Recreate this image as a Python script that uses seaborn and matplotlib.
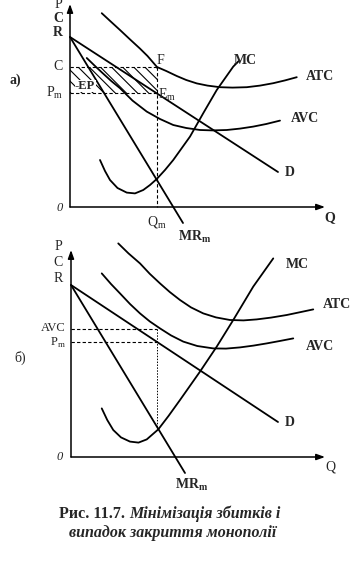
import numpy as np
import matplotlib
matplotlib.use("Agg")
import matplotlib.pyplot as plt
from matplotlib.patches import Rectangle
import seaborn as sns

# ---- panel a) values (Q, P units) ----
a_R = 8.5
a_C = 7.0
a_Pm = 5.7
a_Qm = 3.48
a_D_q = [0, 8.32]
a_D_p = [8.5, 1.75]
a_MR_q = [0, 4.52]
a_MR_p = [8.5, -0.8]
a_MC_q = [1.2, 1.4, 1.6, 1.9, 2.27, 2.6, 2.93, 3.2, 3.47, 3.8, 4.13, 4.8,
          5.33, 5.87, 6.53, 6.75]
a_MC_p = [2.35, 1.8, 1.35, 0.95, 0.72, 0.68, 0.85, 1.1, 1.4, 1.85, 2.35, 3.52,
          4.69, 5.85, 7.02, 7.3]
a_ATC_q = [1.27, 1.65, 2.0, 2.4, 2.8, 3.1, 3.48, 3.85, 4.27, 4.65, 5.07, 5.5,
           6.0, 6.5, 7.07, 7.6, 8.13, 8.6, 9.07]
a_ATC_p = [9.69, 9.25, 8.85, 8.38, 7.92, 7.55, 7.0, 6.8, 6.55, 6.35, 6.18,
           6.07, 5.99, 5.97, 5.99, 6.07, 6.19, 6.33, 6.49]
a_AVC_q = [0.67, 1.0, 1.3, 1.65, 2.0, 2.5, 3.07, 3.6, 4.13, 4.65, 5.2, 5.7,
           6.27, 6.8, 7.33, 7.85, 8.4]
a_AVC_p = [7.45, 7.05, 6.7, 6.3, 5.94, 5.32, 4.77, 4.4, 4.1, 3.95, 3.85,
           3.83, 3.85, 3.92, 4.02, 4.15, 4.32]

# ---- panel б) ----
b_R = 8.6
b_AVC = 6.4
b_Pm = 5.75
b_Qm = 3.44
b_MCQ = 1.4
b_D_q = [0, 8.28]
b_D_p = [8.6, 1.75]
b_MR_q = [0, 4.56]
b_MR_p = [8.6, -0.8]
b_MC_q = [1.23, 1.45, 1.69, 2.0, 2.36, 2.7, 3.03, 3.49, 3.9, 4.36, 5.16,
          5.83, 6.49, 7.29, 8.09]
b_MC_p = [2.43, 1.85, 1.35, 0.98, 0.77, 0.72, 0.88, 1.38, 2.05, 2.85, 4.27,
          5.52, 6.85, 8.52, 9.93]
b_ATC_q = [1.89, 2.3, 2.76, 3.15, 3.56, 3.95, 4.36, 4.8, 5.29, 5.8, 6.36,
           6.9, 7.43, 8.0, 8.63, 9.2, 9.69]
b_ATC_p = [10.68, 10.18, 9.68, 9.16, 8.68, 8.25, 7.85, 7.48, 7.18, 6.98,
           6.85, 6.83, 6.88, 6.97, 7.1, 7.25, 7.38]
b_AVC_q = [1.23, 1.6, 1.96, 2.36, 2.76, 3.15, 3.56, 4.0, 4.49, 5.05, 5.69,
           6.2, 6.76, 7.3, 7.83, 8.35, 8.89]
b_AVC_p = [9.18, 8.65, 8.18, 7.65, 7.18, 6.78, 6.43, 6.08, 5.77, 5.55, 5.43,
           5.42, 5.48, 5.57, 5.68, 5.8, 5.93]

sns.set_style("white")
plt.rcParams["font.family"] = ["Liberation Serif", "DejaVu Serif"]
plt.rcParams["mathtext.fontset"] = "custom"
plt.rcParams["mathtext.rm"] = "Liberation Serif"
plt.rcParams["mathtext.bf"] = "Liberation Serif:bold"
plt.rcParams["hatch.linewidth"] = 0.8
plt.rcParams["hatch.color"] = "black"

W, H = 357, 579
fig = plt.figure(figsize=(W / 100, H / 100), dpi=100)


def make_axes(top, bottom, ox, oy):
    # axes spans full width; 25 px per Q unit, 20 px per P unit
    ax = fig.add_axes([0, 1 - bottom / H, 1, (bottom - top) / H])
    ax.set_xlim(-ox / 25, (W - ox) / 25)
    ax.set_ylim((oy - bottom) / 20, (oy - top) / 20)
    ax.axis("off")
    return ax


def curve(ax, q, p):
    sns.lineplot(x=q, y=p, ax=ax, color="black", lw=1.3, sort=False,
                 estimator=None)


def axes_arrows(ax, ytop, xend):
    arr = dict(arrowstyle="-|>,head_length=0.5,head_width=0.18", color="black",
               lw=1.1, shrinkA=0, shrinkB=0)
    ax.annotate("", xy=(0, ytop), xytext=(0, 0), arrowprops=arr)
    ax.annotate("", xy=(xend, 0), xytext=(0, 0), arrowprops=arr)


dash = dict(color="black", lw=0.8, ls=(0, (3, 2)))
bold = dict(fontsize=10, fontweight="bold")
reg = dict(fontsize=10)

# ---------- a) ----------
ax = make_axes(0, 240, 70, 207)
axes_arrows(ax, 10.15, 10.2)
loss = Rectangle((0, a_Pm), a_Qm, a_C - a_Pm, fill=False, edgecolor="black",
                 hatch="\\\\\\", linewidth=0)
ax.add_patch(loss)
ax.plot([0, a_Qm], [a_C, a_C], **dash)
ax.plot([0, a_Qm], [a_Pm, a_Pm], **dash)
ax.plot([a_Qm, a_Qm], [a_C, 0], **dash)
for q, p in [(a_D_q, a_D_p), (a_MR_q, a_MR_p), (a_MC_q, a_MC_p),
             (a_ATC_q, a_ATC_p), (a_AVC_q, a_AVC_p)]:
    curve(ax, q, p)
ax.text(0.6, 6.05, "-EP", ha="center", va="center", fontsize=9,
        fontweight="bold", bbox=dict(fc="white", ec="none", pad=0.3))
ax.text(-0.48, 10.1, "P", ha="center", va="center", **reg)
ax.text(-0.48, 9.4, "C", ha="center", va="center", **bold)
ax.text(-0.48, 8.75, "R", ha="center", va="center", **bold)
ax.text(-0.28, a_C, "C", ha="right", va="center", **reg)
ax.text(-0.28, a_Pm, r"P$_\mathrm{m}$", ha="right", va="center", **reg)
ax.text(-2.2, 6.35, "а)", ha="center", va="center", **bold)
ax.text(-0.4, -0.05, "0", ha="center", va="center", fontsize=9, style="italic")
ax.text(a_Qm, -0.75, r"Q$_\mathrm{m}$", ha="center", va="center", **reg)
ax.text(10.4, -0.55, "Q", ha="center", va="center", **bold)
ax.text(5.0, -1.5, r"MR$_\mathbf{m}$", ha="center", va="center", **bold)
ax.text(7.0, 7.3, "MC", ha="center", va="center", **bold)
ax.text(10.0, 6.55, "ATC", ha="center", va="center", **bold)
ax.text(9.4, 4.45, "AVC", ha="center", va="center", **bold)
ax.text(8.8, 1.7, "D", ha="center", va="center", **bold)
ax.text(3.6, 7.35, "F", ha="center", va="center", **reg)
ax.text(3.9, 5.6, r"E$_\mathrm{m}$", ha="center", va="center", **reg)

# ---------- б) ----------
ax = make_axes(240, 495, 71, 457)
axes_arrows(ax, 10.35, 10.16)
ax.plot([0, b_Qm], [b_AVC, b_AVC], **dash)
ax.plot([0, b_Qm], [b_Pm, b_Pm], **dash)
ax.plot([b_Qm, b_Qm], [b_AVC, b_MCQ], color="black", lw=0.7, ls=(0, (1.5, 1.5)))
for q, p in [(b_D_q, b_D_p), (b_MR_q, b_MR_p), (b_MC_q, b_MC_p),
             (b_ATC_q, b_ATC_p), (b_AVC_q, b_AVC_p)]:
    curve(ax, q, p)
ax.text(-0.52, 10.5, "P", ha="center", va="center", **reg)
ax.text(-0.52, 9.7, "C", ha="center", va="center", **reg)
ax.text(-0.52, 8.9, "R", ha="center", va="center", **reg)
ax.text(-0.2, b_AVC + 0.05, "AVC", ha="right", va="center", fontsize=9)
ax.text(-0.2, b_Pm - 0.05, r"P$_\mathrm{m}$", ha="right", va="center",
        fontsize=9)
ax.text(-2.04, 4.95, "б)", ha="center", va="center", **reg)
ax.text(-0.44, 0, "0", ha="center", va="center", fontsize=9, style="italic")
ax.text(10.36, -0.5, "Q", ha="center", va="center", **reg)
ax.text(4.84, -1.4, r"MR$_\mathbf{m}$", ha="center", va="center", **bold)
ax.text(9.04, 9.6, "MC", ha="center", va="center", **bold)
ax.text(10.64, 7.6, "ATC", ha="center", va="center", **bold)
ax.text(9.96, 5.55, "AVC", ha="center", va="center", **bold)
ax.text(8.76, 1.7, "D", ha="center", va="center", **bold)

# ---------- caption ----------
fig.text(125 / W, 1 - 514 / H, "Рис. 11.7.", ha="right", va="center",
         fontsize=11.5, fontweight="bold")
fig.text(129 / W, 1 - 514 / H, "Мінімізація збитків і", ha="left",
         va="center", fontsize=11.5, fontweight="bold", style="italic")
fig.text(173 / W, 1 - 533 / H, "випадок закриття монополії", ha="center",
         va="center", fontsize=11.5, fontweight="bold", style="italic")

fig.savefig("out.png", dpi=100)
